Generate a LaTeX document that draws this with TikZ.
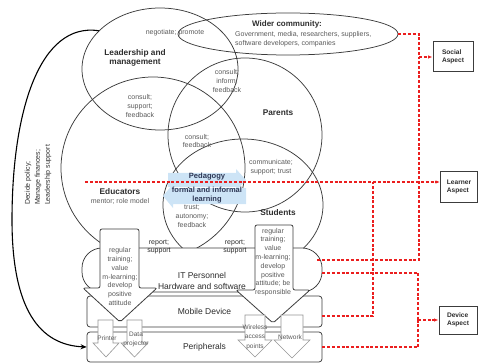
\documentclass[tikz,border=0pt]{standalone}
\usepackage{fontspec}
\setmainfont{Liberation Sans}
\usepackage{tikz}
\usetikzlibrary{shapes.geometric,arrows.meta,positioning,calc}
\definecolor{linegray}{RGB}{60,60,60}
\definecolor{textgray}{RGB}{90,90,90}
\definecolor{labelgray}{RGB}{45,45,45}
\definecolor{pedblue}{RGB}{205,228,246}
\definecolor{pedtext}{RGB}{45,55,85}
\definecolor{aspectred}{RGB}{235,30,30}
\definecolor{minorgray}{RGB}{150,150,150}

\begin{document}
\begin{tikzpicture}[x=1pt, y=-1pt,
    zone/.style={ellipse, draw=linegray, line width=0.75pt, inner sep=0pt},
    zonelabel/.style={font=\fontsize{8.3}{9.6}\selectfont\bfseries, text=labelgray, align=center, inner sep=0pt},
    rel/.style={font=\fontsize{7}{8.8}\selectfont, text=textgray, align=center, inner sep=0pt},
    layerbox/.style={draw=linegray, line width=0.75pt, rounded corners=3pt, fill=white, inner sep=0pt,
                     font=\fontsize{8.5}{11}\selectfont, text=labelgray, align=center},
    aspectbox/.style={draw=linegray, line width=1pt, fill=white, minimum height=30pt, inner sep=0pt,
                      font=\fontsize{6.6}{8.4}\selectfont\bfseries, text=labelgray, align=left},
    blockarrow/.style={draw=linegray, line width=0.8pt, fill=white, rounded corners=2pt},
    minorarrow/.style={draw=minorgray, line width=0.6pt, fill=white},
    minortext/.style={font=\fontsize{6.5}{9.5}\selectfont, text=textgray, align=center, inner sep=0pt},
    redline/.style={draw=aspectred, line width=1.1pt, dash pattern=on 3pt off 1.8pt},
    redarrow/.style={redline, -{Latex[length=4.5pt, width=3.5pt]}}
]
\useasboundingbox (0,0) rectangle (478,363);

% social circles
\node[zone, minimum width=156pt, minimum height=122pt] (lead) at (160,69) {};
\node[zone, minimum width=220pt, minimum height=42pt] (wider) at (288,34) {};
\node[zone, minimum width=154pt, minimum height=154pt] (parents) at (245,135) {};
\node[zone, minimum width=184pt, minimum height=182pt] (educ) at (153,168) {};
\node[zone, minimum width=160pt, minimum height=132pt] (stud) at (243,205) {};

% pedagogy band
\fill[pedblue] (168,173) -- (236,173) -- (236,169) -- (246,180) -- (236,191) -- (236,187) -- (168,187) -- cycle;
\fill[pedblue] (246,188) -- (173,188) -- (173,184) -- (163,196) -- (173,208) -- (173,204) -- (246,204) -- cycle;

% learner line
\coordinate (lrnstart) at (85,182);
\coordinate (lrnjoin) at (373,182);

% labels in the circles
\node[rel] (negot) at (175,33) {negotiate; promote};
\node[zonelabel] (leadlbl) at (135,58) {Leadership and\\management};
\node[zonelabel, font=\fontsize{8}{9.6}\selectfont\bfseries] (widerlbl) at (287,24) {Wider community:};
\node[rel, align=left, anchor=north west] (widertxt) at (235,31) {Government, media, researchers, suppliers,\\software developers, companies};
\node[rel] (ldrpar) at (227,81) {consult;\\inform;\\feedback};
\node[rel] (ldredu) at (140,106) {consult;\\support;\\feedback};
\node[zonelabel] (parlbl) at (278,113) {Parents};
\node[rel] (edupar) at (197,141) {consult;\\feedback};
\node[rel] (parstu) at (271,167) {communicate;\\support; trust};
\node[zonelabel] (edulbl) at (120,192) {Educators};
\node[rel, below=3pt of edulbl] (edurole) {mentor; role model};
\node[zonelabel, font=\fontsize{7.6}{9}\selectfont\bfseries, text=pedtext] (pedlbl) at (207,177) {Pedagogy};
\node[zonelabel, font=\fontsize{7.5}{9}\selectfont\bfseries, text=pedtext] (pedform) at (207,195.5) {formal and informal\\learning};
\node[rel] (edustu) at (192,216) {trust;\\autonomy;\\feedback};
\node[zonelabel] (stulbl) at (278,213) {Students};

% device layers
\node[layerbox, rounded corners=20pt, minimum width=240pt, minimum height=44pt] (itp) at (202,270) {};
\node[rel, text=labelgray] (rep1) at (159,247) {report;\\support};
\node[rel, text=labelgray] (rep2) at (235,247) {report;\\support};
\node[rel, font=\fontsize{8.5}{11}\selectfont, text=labelgray] (itplbl) at (202,280.5) {IT Personnel\\Hardware and software};
\node[layerbox, minimum width=235pt, minimum height=31pt] (mobile) at (204.5,311.5) {Mobile Device};
\node[layerbox, minimum width=235pt, minimum height=30pt] (periph) at (204.5,347) {Peripherals};

% training arrows
\draw[blockarrow] (100,288) -- (100,229) -- (139,229) -- (139,288) -- (157,288) -- (120,322) -- (83,288) -- cycle;
\node[rel] (edutrain) at (120,276.5) {regular\\training;\\value\\m-learning;\\develop\\positive\\attitude};
\draw[blockarrow] (255,290) -- (255,225) -- (293,225) -- (293,290) -- (310,290) -- (273,323) -- (236,290) -- cycle;
\node[rel] (stutrain) at (273,262) {regular\\training;\\value\\m-learning;\\develop\\positive\\attitude; be\\responsible};

% peripherals
\draw[minorarrow] (98,343) -- (98,320) -- (113,320) -- (113,343) -- (119,343) -- (106,357) -- (93,343) -- cycle;
\draw[minorarrow] (127,343) -- (127,320) -- (142,320) -- (142,343) -- (148,343) -- (134.5,357) -- (121,343) -- cycle;
\draw[minorarrow] (245,340) -- (245,315) -- (265,315) -- (265,340) -- (272,340) -- (255,357) -- (238,340) -- cycle;
\draw[minorarrow] (281,340) -- (281,315) -- (303,315) -- (303,340) -- (310,340) -- (292,358) -- (274,340) -- cycle;
\node[minortext] (printlbl) at (107,338) {Printer};
\node[minortext] (projlbl) at (136,339.5) {Data\\projector};
\node[minortext] (wifilbl) at (255,337) {Wireless\\access\\points};
\node[minortext] (netlbl) at (290,337) {Network};

% leadership support
\draw[line width=1.1pt, -{Stealth[length=6pt, width=5pt]}] (lead.148) .. controls (40,22) and (12,110) .. (12,220)
    .. controls (12,310) and (40,345) .. (periph.west);
\node[font=\fontsize{7}{10}\selectfont, text=labelgray, rotate=90, align=left, inner sep=0pt] (policy) at (38,175) {Decide policy;\\Manage finances;\\Leadership support};

% aspects
\node[aspectbox, minimum width=40pt] (social) at (453,57) {Social\\Aspect};
\node[aspectbox, minimum width=37pt] (learner) at (459,187) {Learner\\Aspect};
\node[aspectbox, minimum width=38pt, minimum height=28pt] (device) at (458,320) {Device\\Aspect};

\coordinate (socbus) at (419,57);
\coordinate (devbus) at (418,320);
\draw[redline] (wider.east) -| (socbus);
\draw[redline] ($(itp.east)+(-5,-10)$) -| (socbus);
\draw[redarrow] (socbus) -- (social.west);
\draw[redarrow] (lrnstart) -- (lrnstart -| learner.west);
\draw[redline] ($(mobile.east)+(0,4.5)$) -| (lrnjoin);
\draw[redline] ($(itp.east)+(0,3)$) -| (devbus);
\draw[redline] (periph.east) -| (devbus);
\draw[redarrow] (devbus) -- (device.west);
\end{tikzpicture}
\end{document}
